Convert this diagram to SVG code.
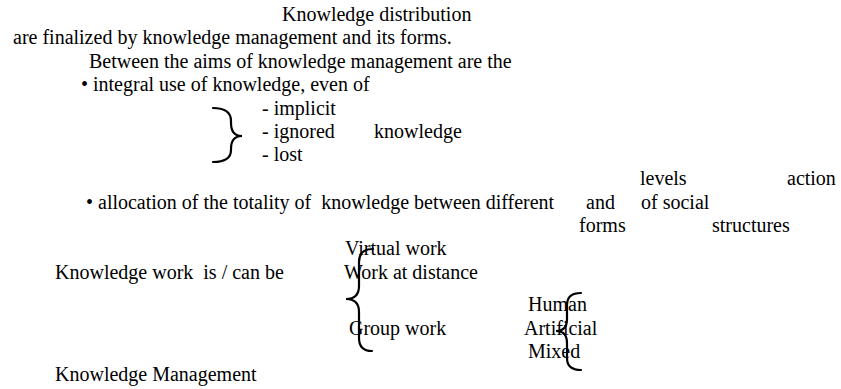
<svg xmlns="http://www.w3.org/2000/svg" width="841" height="389" viewBox="0 0 841 389">
<style>
.t text{font-family:'Liberation Serif','Times New Roman','DejaVu Serif',serif;font-size:20px;fill:#000}
.brace{fill:none;stroke:#000;stroke-width:2.2;stroke-linecap:round}
</style>
<rect width="841" height="389" fill="#fff"/>
<g class="t" font-family="Liberation Serif, Times New Roman, serif" font-size="20">
<g id="intro">
<text x="282" y="21">Knowledge distribution</text>
<text x="13" y="44">are finalized by knowledge management and its forms.</text>
<text x="89" y="68">Between the aims of knowledge management are the</text>
</g>
<g id="aim1">
<text x="81" y="91">• integral use of knowledge, even of</text>
<text x="262" y="115">- implicit</text>
<text x="262" y="138">- ignored</text>
<text x="374" y="138">knowledge</text>
<text x="262" y="161">- lost</text>
</g>
<g id="aim2">
<text x="640" y="185">levels</text>
<text x="787" y="185">action</text>
<text x="86" y="209" xml:space="preserve">• allocation of the totality of  knowledge between different</text>
<text x="586" y="209">and</text>
<text x="641" y="209">of social</text>
<text x="579" y="232">forms</text>
<text x="712" y="232">structures</text>
</g>
<g id="work">
<text x="55" y="279" xml:space="preserve">Knowledge work  is / can be</text>
<text x="345" y="255">Virtual work</text>
<text x="344" y="279">Work at distance</text>
<text x="349" y="335">Group work</text>
</g>
<g id="group-types">
<text x="528" y="311">Human</text>
<text x="524" y="335">Artificial</text>
<text x="528" y="358">Mixed</text>
</g>
<g id="km">
<text x="55" y="381">Knowledge Management</text>
</g>
</g>
<g id="connectors">
<path class="brace" d="M213,108 Q231,108 231,121 L231,123 Q231,136 242,136 Q231,136 231,149 L231,150 Q231,162 213,162"/>
<path class="brace" d="M373,249 Q359,249 359,262 L359,286 Q359,299 346,299 Q359,299 359,312 L359,338 Q359,351 372,351"/>
<path class="brace" d="M581,293 Q567,293 567,305 L567,319 Q567,331 556,331 Q567,331 567,343 L567,358 Q567,370 581,370"/>
</g>
</svg>
